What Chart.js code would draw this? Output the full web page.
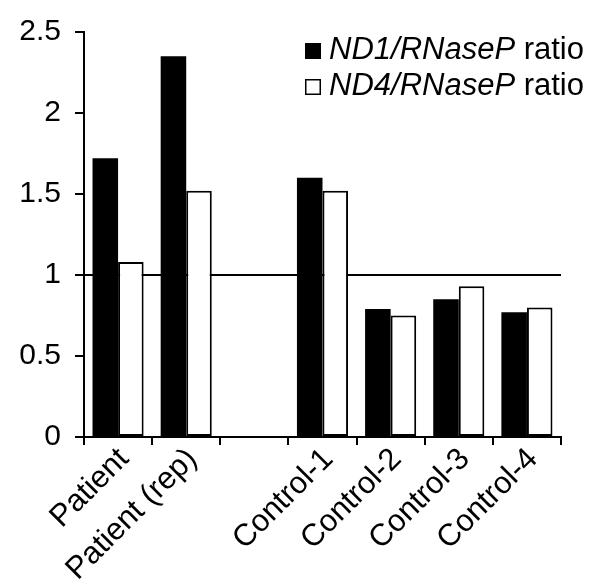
<!DOCTYPE html>
<html lang="en">
<head>
<meta charset="UTF-8">
<title>ND1/ND4 RNaseP ratio</title>
<script src="https://cdn.jsdelivr.net/npm/chart.js"></script>
<style>
  body { margin: 0; background: #fff; }
  .grafico { width: 600px; height: 584px; }
</style>
</head>
<body>
<div class="grafico">
  <canvas id="grafico_barra"></canvas>
</div>
<script>
  // values
  var categorias = ['Patient', 'Patient (rep)', '', 'Control-1', 'Control-2', 'Control-3', 'Control-4'];
  var nd1 = [1.72, 2.35, null, 1.60, 0.79, 0.85, 0.77];
  var nd4 = [1.08, 1.52, null, 1.52, 0.75, 0.93, 0.80];
  var nomesSerie = ['ND1/RNaseP', 'ND4/RNaseP'];
  var sufixoSerie = ' ratio';
  var ticksY = ['0', '0.5', '1', '1.5', '2', '2.5'];
  var linhaRef = 1;

  var fonte = '"Liberation Sans", Arial, Helvetica, sans-serif';

  // horizontal reference line at 1, behind the bars
  var pluginLinha = {
    id: 'linhaRef',
    beforeDatasetsDraw: function (chart) {
      var ctx = chart.ctx;
      var area = chart.chartArea;
      var y = chart.scales.y.getPixelForValue(linhaRef);
      ctx.save();
      ctx.strokeStyle = '#000';
      ctx.lineWidth = 2;
      ctx.beginPath();
      ctx.moveTo(area.left, y);
      ctx.lineTo(area.right, y);
      ctx.stroke();
      ctx.restore();
    }
  };

  // legend with italic gene names
  var pluginLegenda = {
    id: 'legendaItalico',
    afterDraw: function (chart) {
      var ctx = chart.ctx;
      ctx.save();
      ctx.textBaseline = 'alphabetic';
      for (var i = 0; i < chart.data.datasets.length; i++) {
        var ds = chart.data.datasets[i];
        var base = 59 + i * 36;
        ctx.fillStyle = ds.backgroundColor;
        ctx.fillRect(305, base - 16, 16, 16);
        ctx.strokeStyle = '#000';
        ctx.lineWidth = 1.5;
        ctx.strokeRect(305.75, base - 15.25, 14.5, 14.5);
        ctx.fillStyle = '#000';
        ctx.font = 'italic 31px ' + fonte;
        ctx.fillText(nomesSerie[i], 329, base);
        var w = ctx.measureText(nomesSerie[i]).width;
        ctx.font = '31px ' + fonte;
        ctx.fillText(sufixoSerie, 329 + w, base);
      }
      ctx.restore();
    }
  };

  var ctx = document.getElementById('grafico_barra').getContext('2d');
  window.grafico_barra = new Chart(ctx, {
    type: 'bar',
    data: {
      labels: categorias,
      datasets: [
        {
          label: nomesSerie[0] + sufixoSerie,
          data: nd1,
          backgroundColor: '#000',
          borderColor: '#000',
          borderWidth: 0
        },
        {
          label: nomesSerie[1] + sufixoSerie,
          data: nd4,
          backgroundColor: '#fff',
          borderColor: '#000',
          borderWidth: 2,
          borderSkipped: false
        }
      ]
    },
    plugins: [pluginLinha, pluginLegenda],
    options: {
      responsive: true,
      maintainAspectRatio: false,
      animation: false,
      layout: { padding: { top: 31, right: 39, left: 0, bottom: 0 } },
      plugins: {
        legend: { display: false },
        tooltip: { enabled: false }
      },
      datasets: {
        bar: { categoryPercentage: 0.75, barPercentage: 1 }
      },
      scales: {
        x: {
          afterFit: function (s) { s.height = 147; },
          grid: {
            display: true,
            drawOnChartArea: false,
            offset: true,
            color: '#000',
            lineWidth: 2,
            tickLength: 8
          },
          border: { display: true, color: '#000', width: 2 },
          ticks: {
            color: '#000',
            font: { family: fonte, size: 31 },
            minRotation: 45,
            maxRotation: 45,
            autoSkip: false,
            padding: -4,
            labelOffset: 6
          }
        },
        y: {
          min: 0,
          max: 2.5,
          afterFit: function (s) { s.width = 84; },
          grid: {
            display: true,
            drawOnChartArea: false,
            color: '#000',
            lineWidth: 2,
            tickLength: 9
          },
          border: { display: true, color: '#000', width: 2 },
          ticks: {
            stepSize: 0.5,
            color: '#000',
            padding: 14,
            font: { family: fonte, size: 30 },
            callback: function (v, i) { return ticksY[i]; }
          }
        }
      }
    }
  });
</script>
</body>
</html>
